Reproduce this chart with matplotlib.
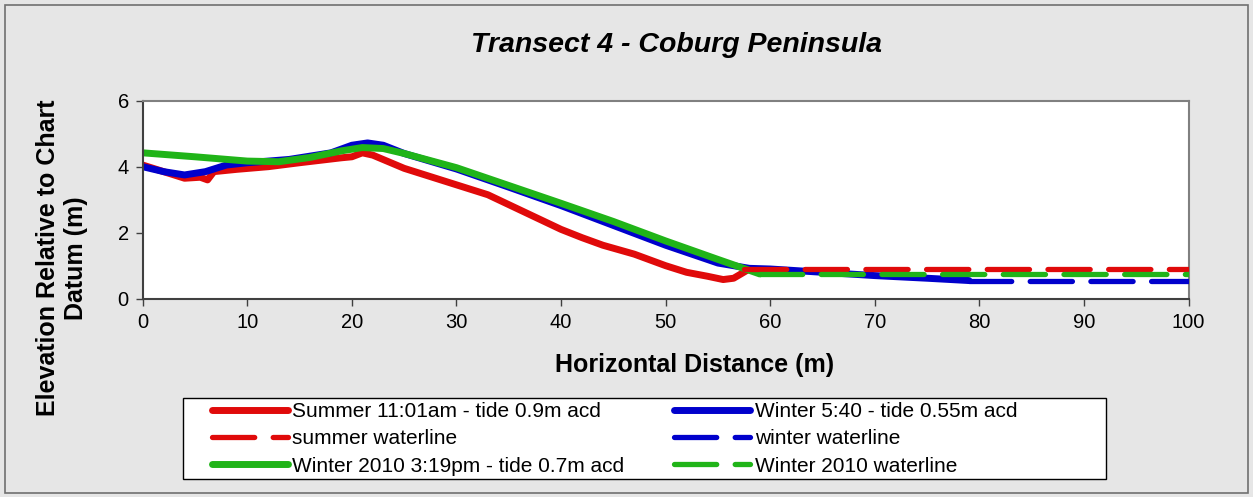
import matplotlib
matplotlib.use('Agg')
import matplotlib.pyplot as plt
from matplotlib.patches import Rectangle

plt.rcParams['font.family'] = ['Liberation Sans', 'DejaVu Sans']

# Summer 11:01am - tide 0.9m acd
summer_x = [0, 2, 4, 5.5, 6.2, 6.8, 9, 12, 15, 19, 20, 21, 22, 25, 28, 30, 32, 33,
            35, 38, 40, 42, 44, 47, 50, 52, 54, 55.5, 56.5, 58]
summer_y = [4.05, 3.85, 3.65, 3.68, 3.6, 3.85, 3.92, 4.0, 4.12, 4.27, 4.3, 4.42, 4.35,
            3.95, 3.65, 3.45, 3.25, 3.15, 2.85, 2.4, 2.1, 1.85, 1.62, 1.35, 1.0, 0.8,
            0.68, 0.58, 0.62, 0.9]

# Winter 5:40 - tide 0.55m acd
winter_x = [0, 2, 4, 6, 8, 10, 14, 18, 20, 21.5, 23, 25, 30, 35, 40, 45, 50, 55, 58,
            60, 65, 70, 75, 79]
winter_y = [4.0, 3.85, 3.75, 3.85, 4.05, 4.12, 4.22, 4.42, 4.65, 4.72, 4.65, 4.4,
            3.93, 3.38, 2.82, 2.22, 1.62, 1.08, 0.92, 0.9, 0.8, 0.7, 0.62, 0.55]

# Winter 2010 3:19pm - tide 0.7m acd
w2010_x = [0, 5, 10, 13, 16, 19, 21, 23, 25, 30, 35, 40, 45, 50, 55, 59]
w2010_y = [4.42, 4.3, 4.17, 4.15, 4.28, 4.48, 4.58, 4.55, 4.4, 3.97, 3.43, 2.89,
           2.34, 1.75, 1.19, 0.75]

# waterlines
summer_wl_x = [57.5, 100]
summer_wl_y = [0.9, 0.9]
winter_wl_x = [79, 100]
winter_wl_y = [0.55, 0.55]
w2010_wl_x = [59, 100]
w2010_wl_y = [0.75, 0.75]

red = '#e00a0a'
blue = '#0000cc'
green = '#20b418'
dash = (0, (8, 3.5))

fig = plt.figure(figsize=(12.53, 4.97), dpi=100, facecolor='#e6e6e6')
fig.patches.append(Rectangle((0.004, 0.008), 0.992, 0.982, transform=fig.transFigure,
                             fill=False, edgecolor='#707070', linewidth=1.2))

ax = fig.add_axes([0.1139, 0.399, 0.8347, 0.3984])

l1, = ax.plot(summer_x, summer_y, color=red, lw=5, solid_joinstyle='round',
              solid_capstyle='round', label='Summer 11:01am - tide 0.9m acd')
l3, = ax.plot(winter_x, winter_y, color=blue, lw=5, solid_joinstyle='round',
              solid_capstyle='round', label='Winter 5:40 - tide 0.55m acd')
l5, = ax.plot(w2010_x, w2010_y, color=green, lw=5, solid_joinstyle='round',
              solid_capstyle='round', label='Winter 2010 3:19pm - tide 0.7m acd')
# waterlines sit on top of the profiles
l2, = ax.plot(summer_wl_x, summer_wl_y, color=red, lw=3.8, linestyle=dash,
              dash_capstyle='round', label='summer waterline', zorder=3)
l4, = ax.plot(winter_wl_x, winter_wl_y, color=blue, lw=3.8, linestyle=dash,
              dash_capstyle='round', label='winter waterline', zorder=3)
l6, = ax.plot(w2010_wl_x, w2010_wl_y, color=green, lw=3.8, linestyle=dash,
              dash_capstyle='round', label='Winter 2010 waterline', zorder=3)

ax.set_xlim(0, 100)
ax.set_ylim(0, 6)
ax.set_xticks(range(0, 101, 10))
ax.set_yticks([0, 2, 4, 6])
ax.tick_params(labelsize=14.5, length=5, width=1, color='#404040', pad=5)
for s in ['left', 'bottom']:
    ax.spines[s].set_color('#404040')
    ax.spines[s].set_linewidth(1.5)
for s in ['top', 'right']:
    ax.spines[s].set_color('#808080')
    ax.spines[s].set_linewidth(1.5)

fig.text(0.540, 0.909, 'Transect 4 - Coburg Peninsula', ha='center', va='center',
         fontsize=20.5, fontweight='bold', fontstyle='italic')
fig.text(0.554, 0.265, 'Horizontal Distance (m)', ha='center', va='center',
         fontsize=18, fontweight='bold')
fig.text(0.0495, 0.481, 'Elevation Relative to Chart\nDatum (m)', ha='center', va='center',
         rotation=90, fontsize=18, fontweight='bold', multialignment='center',
         linespacing=1.25)

# legend frame drawn separately so the columns keep their own spacing
fig.patches.append(Rectangle((183 / 1253, 1 - 479 / 497), 923 / 1253, 81 / 497,
                             transform=fig.transFigure, facecolor='white',
                             edgecolor='black', linewidth=1.0, zorder=2))
leg = fig.legend(handles=[l1, l2, l5, l3, l4, l6], loc='upper left', ncol=2,
                 bbox_to_anchor=(212 / 1253, 1 - 402 / 497),
                 bbox_transform=fig.transFigure, fontsize=15, frameon=False,
                 handlelength=3.65, handletextpad=0.2, labelspacing=0.4,
                 columnspacing=2.4, borderpad=0, borderaxespad=0)
leg.set_zorder(3)

fig.savefig('out.png', dpi=100, facecolor=fig.get_facecolor())
